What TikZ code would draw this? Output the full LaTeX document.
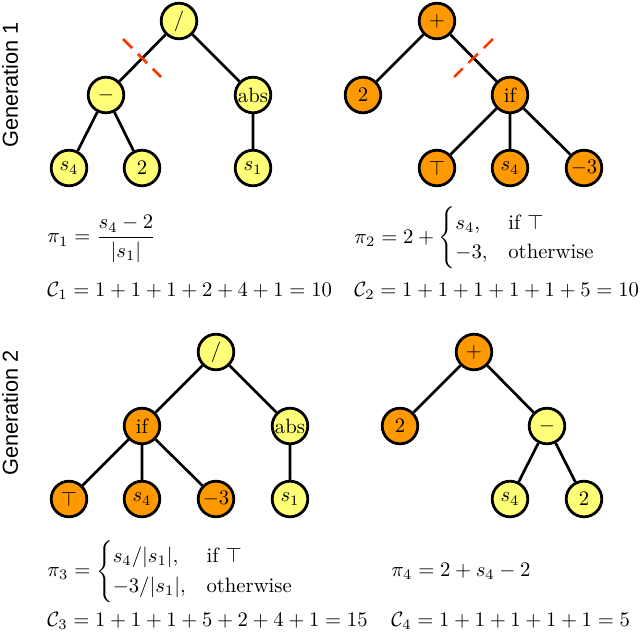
\documentclass[tikz,border=0pt]{standalone}
\usepackage{amsmath}
\usepackage{amssymb}
\usepackage{fontspec}
\newfontfamily\labelfont{Liberation Sans}
\definecolor{ylw}{HTML}{FFFF77}
\definecolor{org}{HTML}{FF9900}
\definecolor{cutred}{HTML}{FF3300}
\tikzset{
 nd/.style={circle,draw=black,line width=1.35pt,inner sep=0pt,minimum size=17.2pt},
 yn/.style={nd,fill=ylw},
 on/.style={nd,fill=org},
 edge/.style={draw=black,line width=1.3pt},
 cutline/.style={draw=cutred,line width=1.2pt,dash pattern=on 6.3pt off 3.9pt},
 gen/.style={rotate=90,font=\labelfont\fontsize{10.5}{12}\selectfont,inner sep=0pt},
 eq/.style={anchor=west,inner sep=0pt},
}
\begin{document}
\begin{tikzpicture}[x=0.483pt,y=-0.483pt]
\useasboundingbox (0,0) rectangle (640,632);
\node[gen] (g1) at (10,85) {Generation 1};
\node[gen] (g2) at (10,413) {Generation 2};
% tree 1
\node[yn] (a) at (179,21) {$/$};
\node[yn] (b) at (106,95) {$-$};
\node[yn] (c) at (253,95) {abs};
\node[yn] (d) at (69,168) {$s_4$};
\node[yn] (e) at (142,168) {$2$};
\node[yn] (f) at (253,168) {$s_1$};
\draw[edge] (a)--(b) (a)--(c) (b)--(d) (b)--(e) (c)--(f);
% tree 2
\node[on] (h) at (437,21) {$+$};
\node[on] (i) at (363,95) {$2$};
\node[on] (j) at (510,95) {if};
\node[on] (k) at (437,168) {$\top$};
\node[on] (l) at (510,168) {$s_4$};
\node[on] (m) at (584,168) {$-3$};
\draw[edge] (h)--(i) (h)--(j) (j)--(k) (j)--(l) (j)--(m);
% cuts
\coordinate (c1a) at (123,39); \coordinate (c1b) at (161,77);
\coordinate (c2a) at (493,39); \coordinate (c2b) at (454,77);
\draw[cutline] (c1a)--(c1b);
\draw[cutline] (c2a)--(c2b);
% tree 3
\node[yn] (n) at (216,352) {$/$};
\node[on] (o) at (142,426) {if};
\node[yn] (p) at (290,426) {abs};
\node[on] (q) at (69,499) {$\top$};
\node[on] (r) at (142,499) {$s_4$};
\node[on] (s) at (216,499) {$-3$};
\node[yn] (t) at (290,499) {$s_1$};
\draw[edge] (n)--(o) (n)--(p) (o)--(q) (o)--(r) (o)--(s) (p)--(t);
% tree 4
\node[on] (u) at (474,352) {$+$};
\node[on] (v) at (400,426) {$2$};
\node[yn] (w) at (547,426) {$-$};
\node[yn] (x) at (510,499) {$s_4$};
\node[yn] (y) at (584,499) {$2$};
\draw[edge] (u)--(v) (u)--(w) (w)--(x) (w)--(y);
% formulas
\node[eq] (f1) at (47,239) {$\pi_1=\dfrac{s_4-2}{|s_1|}$};
\node[eq] (f2) at (354,238) {$\pi_2=2+\begin{cases}s_4, & \text{if }\top\\ -3, & \text{otherwise}\end{cases}$};
\node[eq] (f3) at (47,291) {$\mathcal{C}_1=1+1+1+2+4+1=10$};
\node[eq] (f4) at (354,291) {$\mathcal{C}_2=1+1+1+1+1+5=10$};
\node[eq] (f5) at (47,571.5) {$\pi_3=\begin{cases}s_4/|s_1|, & \text{if }\top\\ -3/|s_1|, & \text{otherwise}\end{cases}$};
\node[eq] (f6) at (391,571.5) {$\pi_4=2+s_4-2$};
\node[eq] (f7) at (47,621) {$\mathcal{C}_3=1+1+1+5+2+4+1=15$};
\node[eq] (f8) at (391,621) {$\mathcal{C}_4=1+1+1+1+1=5$};
\end{tikzpicture}
\end{document}
